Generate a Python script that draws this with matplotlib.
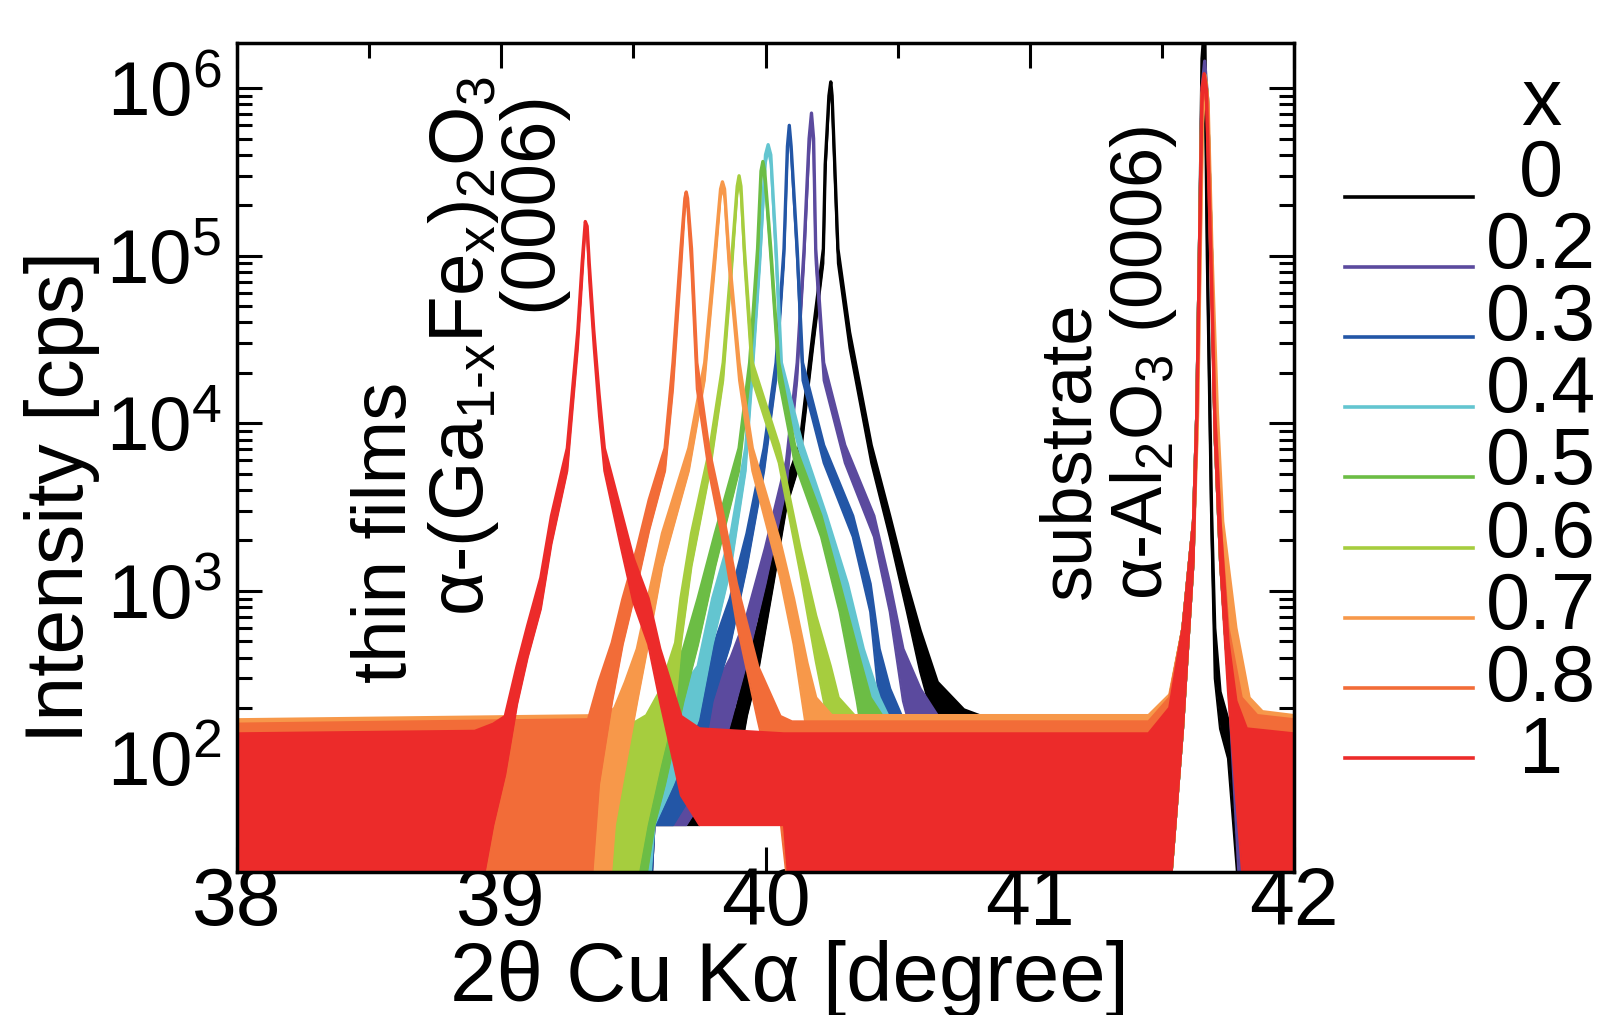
"""XRD 2theta scans of alpha-(Ga1-xFex)2O3 thin films on alpha-Al2O3."""

import matplotlib
matplotlib.use("Agg")
import matplotlib.pyplot as plt
from matplotlib.lines import Line2D
from matplotlib.ticker import LogLocator, MultipleLocator, NullFormatter

plt.rcParams["font.family"] = ["Liberation Sans", "DejaVu Sans"]
plt.rcParams["mathtext.fontset"] = "custom"
plt.rcParams["mathtext.rm"] = "Liberation Sans"
plt.rcParams["mathtext.it"] = "Liberation Sans:italic"
plt.rcParams["mathtext.default"] = "regular"

# ---- data: knot angle, upper and lower edge of the noisy trace (cps)
compositions = ["0", "0.2", "0.3", "0.4", "0.5", "0.6", "0.7", "0.8", "1"]
colors = ["#000000", "#5b4a9e", "#2356a6", "#63c5d0", "#6cbd45",
          "#a6cd3e", "#f7984a", "#f26c38", "#ec2b2a"]

x_0 = [38.00, 39.56, 39.58, 39.75, 39.89, 39.93, 39.975, 40.03, 40.08, 40.13, 40.18, 40.219, 40.226,
       40.24, 40.247, 40.252, 40.262, 40.274, 40.318, 40.40, 40.47, 40.535, 40.585, 40.65, 40.75, 40.83,
       41.45, 41.53, 41.58, 41.62, 41.632, 41.642, 41.652, 41.662, 41.672, 41.688, 41.70, 41.72, 41.75,
       41.80, 42.00]
hi_0 = [140, 150, 150, 170, 195, 355, 650, 1800, 4500, 7400, 3.5e4, 1.1e5, 3.5e5,
        9e5, 1.09e6, 9e5, 3.5e5, 1.1e5, 3.5e4, 7400, 2800, 1100, 580, 285, 195, 175,
        160, 200, 600, 2600, 1.1e4, 1e5, 1.5e6, 2.5e6, 1e5, 3000, 600, 250, 170,
        150, 140]
lo_0 = [10, 10, 40, 40, 80, 180, 350, 1100, 3200, 5800, 2.8e4, 9e4, 3e5,
        8e5, 1e6, 8e5, 3e5, 9e4, 2.8e4, 5800, 2100, 750, 330, 140, 50, 10,
        10, 15, 150, 1500, 8000, 8e4, 1.2e6, 2e6, 8e4, 2000, 300, 150, 100,
        10, 10]

x_2 = [38.00, 39.56, 39.58, 39.70, 39.80, 39.87, 39.93, 40.00, 40.08, 40.12, 40.146, 40.165, 40.174,
       40.182, 40.19, 40.22, 40.30, 40.41, 40.47, 40.52, 40.585, 40.65,
       41.45, 41.53, 41.58, 41.62, 41.632, 41.642, 41.652, 41.662, 41.672, 41.688, 41.70, 41.72, 41.75,
       41.80, 42.00]
hi_2 = [150, 150, 160, 180, 250, 400, 710, 1800, 6000, 2.3e4, 1.1e5, 5e5, 7.1e5,
        5e5, 1.1e5, 2.3e4, 7400, 2800, 1100, 450, 260, 180,
        165, 220, 600, 2600, 1.1e4, 1e5, 1e6, 1.45e6, 9e5, 1e5, 1.15e4, 2600, 600,
        200, 160]
lo_2 = [10, 10, 40, 40, 70, 170, 380, 1100, 4200, 1.8e4, 9e4, 4e5, 6.5e5,
        4e5, 9e4, 1.8e4, 5800, 2100, 750, 220, 90, 10,
        10, 15, 150, 1500, 8000, 8e4, 8e5, 1.2e6, 7e5, 8e4, 8000, 1500, 300,
        10, 10]

x_3 = [38.00, 39.56, 39.58, 39.65, 39.745, 39.80, 39.867, 39.93, 39.995, 40.04, 40.07, 40.083, 40.09,
       40.097, 40.12, 40.14, 40.22, 40.33, 40.396, 40.43, 40.47, 40.52,
       41.45, 41.53, 41.58, 41.62, 41.632, 41.642, 41.652, 41.662, 41.672, 41.688, 41.70, 41.72, 41.75,
       41.80, 41.86, 42.00]
hi_3 = [150, 150, 160, 180, 230, 450, 900, 2200, 7100, 2.3e4, 1.1e5, 4.5e5, 6.0e5,
        4.5e5, 1.1e5, 2.3e4, 7400, 2800, 1100, 450, 260, 170,
        165, 220, 600, 2600, 1.1e4, 1e5, 9e5, 1.2e6, 9e5, 1e5, 1.15e4, 2600, 600,
        220, 170, 160]
lo_3 = [10, 10, 40, 40, 70, 220, 480, 1400, 5200, 1.8e4, 9e4, 4e5, 5.5e5,
        4e5, 9e4, 1.8e4, 5800, 2100, 750, 220, 90, 10,
        10, 15, 150, 1500, 8000, 8e4, 7e5, 1e6, 7e5, 8e4, 8000, 1500, 300,
        40, 10, 10]

x_4 = [38.00, 39.55, 39.58, 39.65, 39.745, 39.80, 39.87, 39.925, 39.95, 39.98, 40.00, 40.01, 40.02,
       40.04, 40.06, 40.14, 40.23, 40.31, 40.37, 40.43, 40.47,
       41.45, 41.53, 41.58, 41.62, 41.632, 41.642, 41.652, 41.662, 41.672, 41.688, 41.70, 41.72, 41.75,
       41.80, 41.86, 42.00]
hi_4 = [150, 150, 160, 220, 355, 900, 2200, 7100, 2.3e4, 1.1e5, 4e5, 4.6e5, 4e5,
        1.1e5, 2.3e4, 7400, 2800, 1100, 450, 230, 170,
        165, 220, 600, 2600, 1.1e4, 1e5, 9e5, 1.2e6, 9e5, 1e5, 1.15e4, 2600, 600,
        220, 170, 160]
lo_4 = [10, 10, 40, 70, 170, 480, 1400, 5200, 1.8e4, 9e4, 3.5e5, 4.2e5, 3.5e5,
        9e4, 1.8e4, 5800, 2100, 750, 220, 70, 10,
        10, 15, 150, 1500, 8000, 8e4, 7e5, 1e6, 7e5, 8e4, 8000, 1500, 300,
        40, 10, 10]

x_5 = [38.00, 39.52, 39.58, 39.62, 39.69, 39.745, 39.81, 39.90, 39.94, 39.97, 39.983, 39.99, 39.997,
       40.02, 40.05, 40.11, 40.21, 40.28, 40.345, 40.396, 40.45,
       41.45, 41.53, 41.58, 41.62, 41.632, 41.642, 41.652, 41.662, 41.672, 41.688, 41.70, 41.72, 41.75,
       41.80, 41.86, 42.00]
hi_5 = [155, 155, 170, 250, 450, 900, 2200, 7100, 2.3e4, 1.1e5, 3.2e5, 3.65e5, 3.2e5,
        1.1e5, 2.3e4, 7400, 2800, 1100, 450, 230, 170,
        165, 230, 600, 2600, 1.1e4, 1e5, 9e5, 1.2e6, 9e5, 1e5, 1.15e4, 2600, 600,
        220, 170, 160]
lo_5 = [10, 10, 40, 70, 220, 480, 1400, 5200, 1.8e4, 9e4, 2.8e5, 3.3e5, 2.8e5,
        9e4, 1.8e4, 5800, 2100, 750, 220, 70, 10,
        10, 15, 150, 1500, 8000, 8e4, 7e5, 1e6, 7e5, 8e4, 8000, 1500, 300,
        40, 10, 10]

x_6 = [38.00, 39.48, 39.55, 39.60, 39.66, 39.68, 39.72, 39.79, 39.84, 39.875, 39.893, 39.90, 39.907,
       39.92, 39.95, 40.05, 40.13, 40.19, 40.245, 40.275, 40.35,
       41.45, 41.53, 41.58, 41.62, 41.632, 41.642, 41.652, 41.662, 41.672, 41.688, 41.70, 41.72, 41.75,
       41.80, 41.86, 42.00]
hi_6 = [155, 155, 180, 250, 490, 900, 2200, 7100, 2.3e4, 1.1e5, 2.6e5, 3.0e5, 2.6e5,
        1.1e5, 2.3e4, 7400, 1800, 710, 355, 230, 170,
        165, 230, 600, 2600, 1.1e4, 1e5, 9e5, 1.2e6, 9e5, 1e5, 1.15e4, 2600, 600,
        220, 170, 160]
lo_6 = [10, 10, 40, 90, 220, 480, 1400, 5200, 1.8e4, 9e4, 2.3e5, 2.7e5, 2.3e5,
        9e4, 1.8e4, 5800, 1300, 380, 140, 60, 10,
        10, 15, 150, 1500, 8000, 8e4, 7e5, 1e6, 7e5, 8e4, 8000, 1500, 300,
        40, 10, 10]

x_7 = [38.00, 39.40, 39.43, 39.47, 39.515, 39.556, 39.61, 39.71, 39.77, 39.81, 39.83, 39.837, 39.845,
       39.86, 39.90, 39.95, 40.055, 40.106, 40.157, 40.19, 40.25,
       41.45, 41.53, 41.58, 41.62, 41.635, 41.645, 41.655, 41.665, 41.675, 41.69, 41.71, 41.73, 41.78,
       41.83, 41.88, 42.00]
hi_7 = [170, 180, 200, 285, 450, 900, 2200, 7100, 2.3e4, 1.1e5, 2.5e5, 2.76e5, 2.5e5,
        1.1e5, 2.3e4, 7100, 1950, 900, 370, 230, 180,
        180, 240, 600, 2600, 1.1e4, 1e5, 8e5, 1.15e6, 8e5, 1e5, 1.15e4, 2600, 600,
        230, 190, 180]
lo_7 = [10, 10, 40, 90, 220, 480, 1400, 5200, 1.8e4, 9e4, 2.2e5, 2.5e5, 2.2e5,
        9e4, 1.8e4, 5200, 1200, 480, 140, 50, 10,
        10, 15, 150, 1500, 8000, 8e4, 6e5, 1e6, 6e5, 8e4, 8000, 1500, 300,
        40, 10, 10]

x_8 = [38.00, 39.33, 39.37, 39.42, 39.46, 39.515, 39.56, 39.62, 39.65, 39.68, 39.695, 39.70, 39.705,
       39.72, 39.74, 39.785, 39.84, 39.89, 39.97, 40.055, 40.10,
       41.45, 41.53, 41.58, 41.62, 41.632, 41.642, 41.652, 41.662, 41.672, 41.688, 41.70, 41.72, 41.75,
       41.80, 41.86, 42.00]
hi_8 = [160, 170, 285, 490, 890, 1800, 3500, 7100, 2.3e4, 1.1e5, 2.2e5, 2.4e5, 2.2e5,
        1.1e5, 2.3e4, 7100, 2800, 1100, 355, 178, 165,
        165, 230, 600, 2600, 1.1e4, 1e5, 9e5, 1.2e6, 9e5, 1e5, 1.15e4, 2600, 600,
        230, 180, 170]
lo_8 = [10, 10, 70, 220, 480, 1100, 2300, 5200, 1.6e4, 8e4, 1.9e5, 2.2e5, 1.9e5,
        8e4, 1.6e4, 5200, 1900, 650, 170, 45, 10,
        10, 15, 150, 1500, 8000, 8e4, 7e5, 1e6, 7e5, 8e4, 8000, 1500, 300,
        40, 10, 10]

x_10 = [38.00, 38.90, 38.97, 39.015, 39.06, 39.10, 39.15, 39.19, 39.25, 39.29, 39.306, 39.318, 39.325,
        39.333, 39.35, 39.37, 39.39, 39.45, 39.50, 39.556, 39.60, 39.68, 39.75, 40.07, 40.10,
        41.45, 41.53, 41.58, 41.62, 41.632, 41.642, 41.652, 41.66, 41.668, 41.685, 41.70, 41.72, 41.75,
        41.78, 41.82, 42.00]
hi_10 = [140, 145, 160, 178, 355, 620, 1200, 2800, 7100, 3.6e4, 9e4, 1.6e5, 1.5e5,
         9e4, 3.6e4, 1.5e4, 7100, 3100, 1550, 900, 450, 178, 150, 140, 140,
         140, 200, 600, 2600, 1.1e4, 1e5, 1e6, 1.22e6, 1e6, 1e5, 1.15e4, 2600, 500,
         220, 150, 140]
lo_10 = [10, 10, 40, 80, 210, 400, 780, 1900, 5200, 2.8e4, 7e4, 1.4e5, 1.3e5,
         7e4, 2.8e4, 1.1e4, 5200, 1900, 850, 480, 220, 60, 40, 40, 10,
         10, 15, 150, 1500, 8000, 8e4, 8e5, 1.1e6, 8e5, 8e4, 8000, 1500, 250,
         60, 10, 10]

angles = [x_0, x_2, x_3, x_4, x_5, x_6, x_7, x_8, x_10]
upper = [hi_0, hi_2, hi_3, hi_4, hi_5, hi_6, hi_7, hi_8, hi_10]
lower = [lo_0, lo_2, lo_3, lo_4, lo_5, lo_6, lo_7, lo_8, lo_10]

W, H = 1600, 1015


def px(x, y):
    """Pixel position (from top left) to figure fraction."""
    return x / W, 1 - y / H


fig = plt.figure(figsize=(W / 100, H / 100), dpi=100)
ax = fig.add_axes([237 / W, 1 - 872 / H, (1294 - 237) / W, (872 - 43) / H])

for i, (xs, hs, ls, c) in enumerate(zip(angles, upper, lower, colors)):
    ax.fill_between(xs, ls, hs, color=c, lw=0, zorder=2 + i)
    ax.plot(xs, hs, color=c, lw=2.4, zorder=2 + i)
    ax.plot(xs, ls, color=c, lw=1.5, zorder=2 + i)

ax.set_yscale("log")
ax.set_xlim(38, 42)
ax.set_ylim(21, 1.86e6)

ax.xaxis.set_major_locator(MultipleLocator(1))
ax.xaxis.set_minor_locator(MultipleLocator(0.5))
ax.yaxis.set_major_locator(LogLocator(base=10, numticks=10))
ax.yaxis.set_minor_locator(LogLocator(base=10, subs=range(2, 10), numticks=20))
ax.yaxis.set_minor_formatter(NullFormatter())

for s in ax.spines.values():
    s.set_linewidth(2.5)
    s.set_zorder(20)
ax.tick_params(which="both", direction="in", top=True, right=True, width=2.2, zorder=20)
ax.tick_params(which="major", length=18)
ax.tick_params(which="minor", length=11)
ax.tick_params(axis="x", labelsize=58, pad=-4)
ax.tick_params(axis="y", labelsize=55, pad=11)

fig.text(*px(62, 497), "Intensity [cps]", rotation=90, ha="center", va="center", fontsize=58)
fig.text(*px(790, 979), "2θ Cu Kα [degree]", ha="center", va="center", fontsize=60)

# annotations
fig.text(*px(351, 683), "thin films", rotation=90, ha="left", va="bottom", fontsize=55)
fig.text(*px(426, 76), r"α-(Ga$_{1\text{-}x}$Fe$_x$)$_2$O$_3$", rotation=90, ha="left", va="top",
         fontsize=55)
fig.text(*px(495, 90), "(0006)", rotation=90, ha="left", va="top", fontsize=55)
fig.text(*px(1038, 600), "substrate", rotation=90, ha="left", va="bottom", fontsize=52)
fig.text(*px(1108, 600), r"α-Al$_2$O$_3$ (0006)", rotation=90, ha="left", va="bottom", fontsize=52)

# legend drawn by hand to the right of the axes
fig.text(*px(1541, 104), "x", ha="center", va="center", fontsize=58)
for i, (lab, c) in enumerate(zip(compositions, colors)):
    y_line = 197 + i * 70.1
    y_text = 175.5 + i * 72.1
    fig.add_artist(Line2D([1345 / W, 1473 / W], [1 - y_line / H] * 2, color=c, lw=2.6))
    fig.text(*px(1541, y_text), lab, ha="center", va="center", fontsize=57)

fig.savefig("out.png", dpi=100)
